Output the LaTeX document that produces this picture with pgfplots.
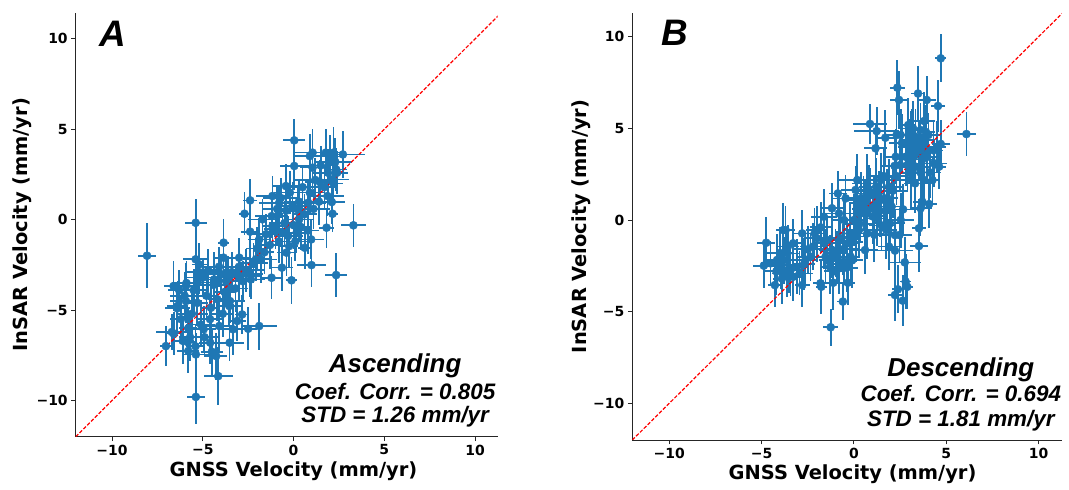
\documentclass[border=0pt]{standalone}
\usepackage{fontspec}
\setmainfont{DejaVu Sans}
\newfontfamily\annfont{Liberation Sans}
\usepackage{pgfplots}
\usepackage{pgfplotstable}
\pgfplotsset{compat=1.18}
\definecolor{mplblue}{RGB}{31,119,180}

\pgfplotstableread{
x y ex ey
-8.07 -1.99 0.5 1.8
-5.39 -0.17 0.6 1.3
-5.38 -9.80 0.5 1.5
-4.15 -8.65 0.8 1.6
-4.26 -7.54 0.6 1.3
-5.38 -7.45 0.7 1.2
-7.03 -6.99 0.3 1.1
-6.70 -6.21 0.9 1.0
-1.89 -5.88 1.0 1.3
-2.50 -6.03 0.5 1.2
-3.34 -6.06 0.7 1.4
-2.83 -5.24 0.4 1.1
-3.52 -6.80 0.8 1.0
-4.59 -6.80 0.6 1.2
-5.83 -6.77 0.5 1.3
-5.80 -7.26 0.6 1.2
-4.95 -6.06 0.7 1.3
-4.09 -5.88 0.8 1.4
-6.39 -4.77 0.6 1.4
-5.93 -4.50 0.9 1.2
-4.55 -4.87 0.5 1.3
-3.54 -4.77 0.7 1.1
-6.61 -3.67 0.5 1.4
-5.93 -3.67 0.6 1.3
-5.28 -3.48 0.8 1.2
-4.37 -3.30 1.0 1.5
-3.72 -3.39 0.9 1.4
-2.99 -3.12 1.2 1.3
-2.35 -3.30 0.8 1.1
-1.21 -3.21 0.5 1.2
-0.64 -2.65 0.6 1.3
-0.11 -3.35 0.3 1.3
0.99 -2.51 0.8 1.2
2.35 -3.06 0.6 1.2
-5.39 -2.19 0.7 1.5
-5.19 -2.47 0.4 1.2
-3.85 -1.27 0.3 1.3
-3.85 -2.10 0.5 1.2
-2.99 -2.10 0.6 1.1
-2.07 -2.19 0.7 1.2
-2.70 0.33 0.3 1.2
-2.39 1.07 0.4 1.2
-2.39 -0.66 0.5 1.0
-1.71 0.02 0.8 1.1
-1.89 -1.09 0.6 1.2
-1.16 1.31 0.9 1.1
-0.42 1.86 0.7 1.2
-0.79 0.94 1.1 1.0
-0.06 0.76 0.9 1.3
-1.16 -0.35 0.6 1.2
-0.61 -0.72 0.8 1.1
-0.24 -1.46 0.5 1.2
0.04 4.39 0.6 1.2
0.04 2.97 0.8 1.3
1.05 3.71 1.0 1.3
0.90 3.52 0.8 1.2
1.05 2.88 0.7 1.2
1.78 3.71 0.6 1.3
2.00 3.19 0.8 1.2
2.20 3.71 0.5 1.4
2.72 3.61 1.2 1.3
2.35 2.78 0.6 1.2
2.15 2.23 0.9 1.0
1.45 2.08 0.8 1.2
1.87 1.31 0.9 1.1
2.11 0.98 0.7 1.2
2.15 0.33 0.3 1.0
1.82 -0.44 0.4 1.1
3.30 -0.31 0.7 1.2
0.81 0.94 1.0 1.1
0.31 0.02 0.8 1.2
0.97 -1.09 0.7 1.1
0.62 -1.55 0.4 1.2
0.17 -0.72 0.6 1.1
0.22 0.57 0.7 1.2
-0.39 -1.82 0.5 1.3
-6.20 -5.50 0.6 1.2
-6.00 -4.20 0.8 1.3
-5.80 -6.00 0.5 1.1
-5.60 -5.20 0.9 1.4
-5.50 -3.90 0.7 1.2
-5.30 -4.60 0.6 1.3
-5.10 -5.80 0.8 1.2
-5.00 -3.20 1.0 1.1
-4.80 -4.20 0.6 1.3
-4.60 -5.50 0.7 1.2
-4.40 -3.60 0.9 1.4
-4.20 -4.40 0.5 1.2
-4.00 -3.00 1.1 1.1
-3.80 -4.00 0.6 1.3
-3.60 -3.20 0.8 1.2
-3.40 -2.90 1.2 1.1
-3.20 -3.80 0.7 1.3
-3.00 -2.60 0.9 1.2
-2.80 -3.40 0.6 1.1
-2.60 -2.80 1.0 1.2
-2.40 -3.00 0.7 1.3
-2.20 -2.40 0.8 1.1
-2.00 -1.60 0.6 1.2
-1.80 -2.20 0.9 1.3
-1.60 -1.80 0.5 1.2
-1.50 -0.80 0.8 1.1
-1.30 -1.40 0.7 1.3
-1.20 0.20 0.9 1.2
-1.00 -0.50 0.6 1.1
-0.90 0.60 0.8 1.3
-0.80 -1.20 0.5 1.2
-0.70 1.20 1.0 1.1
-0.50 -0.20 0.7 1.2
-0.40 0.50 0.6 1.3
-0.30 -0.90 0.8 1.1
-0.20 1.50 0.9 1.2
0.00 -0.30 0.6 1.3
0.10 -1.20 0.7 1.1
0.30 1.00 0.8 1.2
0.40 -0.40 0.5 1.3
0.50 1.80 1.0 1.2
0.60 0.30 0.7 1.1
0.80 -0.60 0.6 1.3
0.90 1.50 0.8 1.2
1.10 0.60 0.9 1.1
1.20 2.20 1.1 1.2
1.40 1.00 0.7 1.3
1.50 3.00 0.9 1.1
1.70 1.80 0.6 1.2
1.90 2.60 0.8 1.3
2.00 3.50 0.7 1.2
2.20 2.00 0.5 1.1
2.30 3.20 0.9 1.3
2.40 2.60 0.6 1.2
-6.60 -6.30 0.5 1.2
-6.40 -4.90 0.7 1.3
-6.30 -3.90 0.6 1.1
-5.90 -3.50 0.8 1.2
-5.70 -6.50 0.6 1.3
-5.40 -7.00 0.5 1.2
-4.90 -6.50 0.8 1.1
-4.50 -7.30 0.6 1.3
-4.70 -2.80 0.7 1.2
-4.10 -2.60 0.9 1.1
-3.90 -5.20 0.6 1.3
-3.50 -4.50 0.8 1.2
-3.10 -5.60 0.5 1.1
-5.20 -2.90 0.7 1.2
-6.10 -6.70 0.6 1.3
}\dataA

\pgfplotstableread{
x y ex ey
4.70 8.82 0.3 1.3
2.35 7.22 0.4 1.5
2.44 6.55 0.5 1.6
3.47 6.90 0.4 1.5
3.94 6.55 0.5 1.3
4.55 6.22 0.4 1.4
6.09 4.69 0.5 1.2
0.87 5.24 0.9 1.1
1.23 4.85 1.2 1.3
1.70 4.49 0.5 1.5
2.31 4.64 0.7 1.6
2.53 4.64 0.6 1.4
2.94 5.18 0.4 1.5
4.03 4.64 0.6 1.2
4.70 4.15 0.5 1.3
1.17 3.91 0.6 1.4
2.26 3.45 0.5 1.5
3.25 3.45 0.7 1.6
3.61 3.82 0.6 1.4
4.34 3.09 0.7 1.3
4.61 2.91 0.4 1.2
2.20 2.95 0.7 1.5
3.07 2.55 0.6 1.4
3.79 2.18 0.5 1.6
4.25 2.18 0.4 1.3
0.18 2.18 1.0 1.4
0.72 2.00 0.8 1.6
1.45 2.18 1.1 1.5
1.63 2.36 0.6 1.4
1.90 1.82 0.7 1.5
3.31 2.00 0.6 1.6
0.09 1.64 0.8 1.3
0.90 1.45 0.7 1.4
1.63 1.09 0.5 1.5
2.04 0.73 0.7 1.6
3.70 1.00 0.5 1.4
4.07 0.87 0.4 1.3
3.61 0.64 0.6 1.5
-0.87 1.45 0.5 1.2
-0.45 1.18 0.7 1.3
-1.19 0.64 0.6 1.4
-0.81 0.36 0.9 1.3
-1.63 0.18 0.7 1.5
0.00 0.00 0.6 1.4
0.36 0.36 0.8 1.6
1.26 0.09 0.5 1.5
2.66 0.58 0.8 1.4
2.53 0.00 0.7 1.5
1.75 -0.55 0.6 1.6
1.95 -0.18 0.8 1.3
2.46 -0.82 0.7 1.5
2.22 -0.82 0.5 1.4
3.52 -0.45 0.4 1.6
3.52 -1.42 0.5 1.4
1.90 -1.45 0.6 1.3
2.22 -1.67 1.0 1.5
2.75 -2.31 0.9 1.4
2.80 -3.36 0.3 1.5
2.89 -3.64 0.3 1.2
2.22 -4.09 0.4 1.4
2.38 -3.78 0.3 1.3
2.64 -4.40 0.3 1.4
0.60 -1.64 0.7 1.3
0.72 -0.73 0.9 1.4
0.27 -0.55 0.8 1.5
-0.23 -0.73 0.6 1.6
-0.36 -1.27 0.7 1.4
-0.18 -2.00 0.5 1.5
-0.54 -2.27 0.6 1.3
-0.90 -2.00 0.8 1.4
-1.17 -1.64 0.7 1.5
-1.54 -2.00 0.6 1.4
-1.30 -2.55 0.5 1.5
-0.81 -2.64 0.7 1.4
-0.33 -3.42 0.4 1.2
-1.12 -3.42 0.3 1.5
-0.60 -4.45 0.3 1.0
-1.26 -5.85 0.4 1.0
-1.81 -3.45 0.4 1.3
-1.77 -3.64 0.3 1.5
-1.99 -0.55 0.6 1.3
-2.13 -0.73 0.5 1.4
-2.22 -1.45 0.7 1.3
-2.62 -2.18 0.6 1.4
-2.80 -0.73 0.5 1.3
-2.94 -2.91 0.7 1.2
-3.07 -2.55 0.6 1.5
-2.80 -3.55 0.4 1.2
-3.29 -1.27 0.5 1.3
-3.61 -1.82 0.7 1.4
-3.70 -0.55 0.5 1.3
-3.83 -0.55 0.4 1.5
-3.58 -1.45 0.6 1.2
-4.16 -2.18 0.7 1.4
-3.97 -2.45 0.6 1.3
-4.52 -2.36 0.5 1.2
-4.28 -3.55 0.4 1.2
-4.75 -1.24 0.5 1.4
-4.88 -2.49 0.6 1.2
-3.61 -2.91 0.8 1.3
-3.43 -2.73 0.6 1.4
-2.35 -2.00 0.7 1.3
-1.63 -1.27 0.6 1.4
-1.45 -1.09 0.8 1.3
-0.72 -1.00 0.9 1.5
-0.54 0.00 0.7 1.4
0.18 1.09 0.6 1.3
0.51 0.91 0.8 1.5
1.08 0.73 0.7 1.6
1.36 1.27 0.6 1.4
2.80 3.45 0.5 1.6
2.98 4.00 0.6 1.5
3.16 4.36 0.5 1.7
3.34 4.55 0.6 1.5
3.52 3.82 0.5 1.6
3.07 3.09 0.6 1.5
3.34 2.91 0.7 1.4
3.07 4.36 0.5 1.6
3.61 4.91 0.4 1.5
3.79 4.36 0.6 1.4
3.97 3.45 0.5 1.5
3.30 3.60 0.6 1.5
3.50 4.20 0.5 1.6
3.70 3.30 0.7 1.4
3.90 4.80 0.5 1.5
4.10 2.60 0.6 1.4
4.30 3.80 0.5 1.6
3.10 2.20 0.6 1.5
2.90 3.00 0.7 1.4
3.60 2.60 0.5 1.5
3.80 5.40 0.6 1.6
4.50 4.00 0.5 1.4
3.20 5.00 0.6 1.5
2.60 4.20 0.7 1.6
2.50 3.00 0.5 1.4
-1.30 -2.20 0.6 1.4
-1.00 -1.80 0.7 1.3
-0.80 -2.40 0.5 1.5
-0.60 -1.60 0.8 1.4
-0.40 -2.60 0.6 1.3
-0.20 -1.20 0.7 1.5
0.10 -0.90 0.6 1.4
0.30 -0.20 0.8 1.3
-1.10 -2.80 0.5 1.4
-0.10 -2.20 0.6 1.5
-4.20 -2.80 0.6 1.3
-4.00 -1.80 0.7 1.4
-3.80 -2.20 0.5 1.3
-3.50 -2.60 0.6 1.4
-3.30 -3.10 0.7 1.3
-3.90 -3.20 0.5 1.4
0.60 0.60 0.7 1.5
0.80 1.60 0.8 1.4
1.00 0.20 0.6 1.5
1.20 1.80 0.9 1.6
1.40 0.50 0.7 1.4
1.60 2.40 0.8 1.5
1.80 1.20 0.6 1.6
0.40 1.20 0.7 1.4
1.10 -0.80 0.6 1.5
1.50 -0.30 0.7 1.4
2.10 1.60 0.8 1.5
2.30 2.40 0.6 1.6
-2.00 -1.00 0.7 1.3
-1.80 -0.40 0.6 1.4
-2.50 -1.60 0.8 1.3
-2.70 -2.40 0.6 1.4
}\dataB

\pgfplotsset{
  panel/.style={
    scale only axis,
    anchor=south west,
    xmin=-12, xmax=11.25, ymin=-12,
    axis lines*=left,
    axis line style={-, line width=0.9bp, black!85},
    xtick={-10,-5,0,5,10}, ytick={-10,-5,0,5,10},
    xticklabels={−10,−5,0,5,10}, yticklabels={−10,−5,0,5,10},
    tick align=outside, major tick length=4.5bp,
    tick style={line width=0.9bp, black!85},
    tick label style={font=\fontsize{14}{16}\selectfont\bfseries},
    xlabel={GNSS Velocity (mm/yr)}, ylabel={InSAR Velocity (mm/yr)},
    label style={font=\fontsize{19.5}{22}\selectfont\bfseries},
    clip=true,
  },
  pts/.style={only marks, mark=*, mark size=4.1bp, color=mplblue,
    mark options={draw=mplblue, fill=mplblue},
    error bars/.cd, x dir=both, x explicit, y dir=both, y explicit,
    error mark=none, error bar style={line width=1.7bp, mplblue}},
  one2one/.style={red, dash pattern=on 3.6bp off 1.8bp, line width=1.2bp},
}
\tikzset{
  bigl/.style={font=\annfont\fontsize{37}{40}\selectfont\bfseries\itshape},
  ttl/.style={anchor=base, font=\annfont\fontsize{26}{30}\selectfont\bfseries\itshape},
  stat/.style={anchor=base, font=\annfont\fontsize{22.5}{26}\selectfont\bfseries\itshape},
}

\begin{document}
\begin{tikzpicture}[x=1bp,y=1bp]
\useasboundingbox (0,0) rectangle (1069,490);
\begin{axis}[panel, at={(75.7bp,53.3bp)}, width=422bp, height=424bp, ymax=11.45,
  xlabel style={at={(axis description cs:0.516,-0.095)}, anchor=base},
  ylabel style={at={(axis description cs:-0.126,0.5)}, anchor=center}]
\addplot[pts] table[x=x, y=y, x error=ex, y error=ey] {\dataA};
\addplot[one2one] coordinates {(-12,-12) (12,12)};
\node[anchor=base west, bigl] at (rel axis cs:0.048,0.92) {A};
\node[ttl] at (rel axis cs:0.757,0.151) {Ascending};
\node[stat] at (rel axis cs:0.757,0.0866) {Coef. Corr. = 0.805};
\node[stat] at (rel axis cs:0.757,0.033) {STD = 1.26 mm/yr};
\end{axis}
\begin{axis}[panel, at={(632.3bp,50bp)}, width=429.4bp, height=427.3bp, ymax=11.31,
  xlabel style={at={(axis description cs:0.513,-0.0936)}, anchor=base},
  ylabel style={at={(axis description cs:-0.1195,0.5)}, anchor=center}]
\addplot[pts] table[x=x, y=y, x error=ex, y error=ey] {\dataB};
\addplot[one2one] coordinates {(-12,-12) (12,12)};
\node[anchor=base west, bigl] at (rel axis cs:0.0606,0.924) {B};
\node[ttl] at (rel axis cs:0.765,0.148) {Descending};
\node[stat] at (rel axis cs:0.765,0.0896) {Coef. Corr. = 0.694};
\node[stat] at (rel axis cs:0.765,0.031) {STD = 1.81 mm/yr};
\end{axis}
\end{tikzpicture}
\end{document}
